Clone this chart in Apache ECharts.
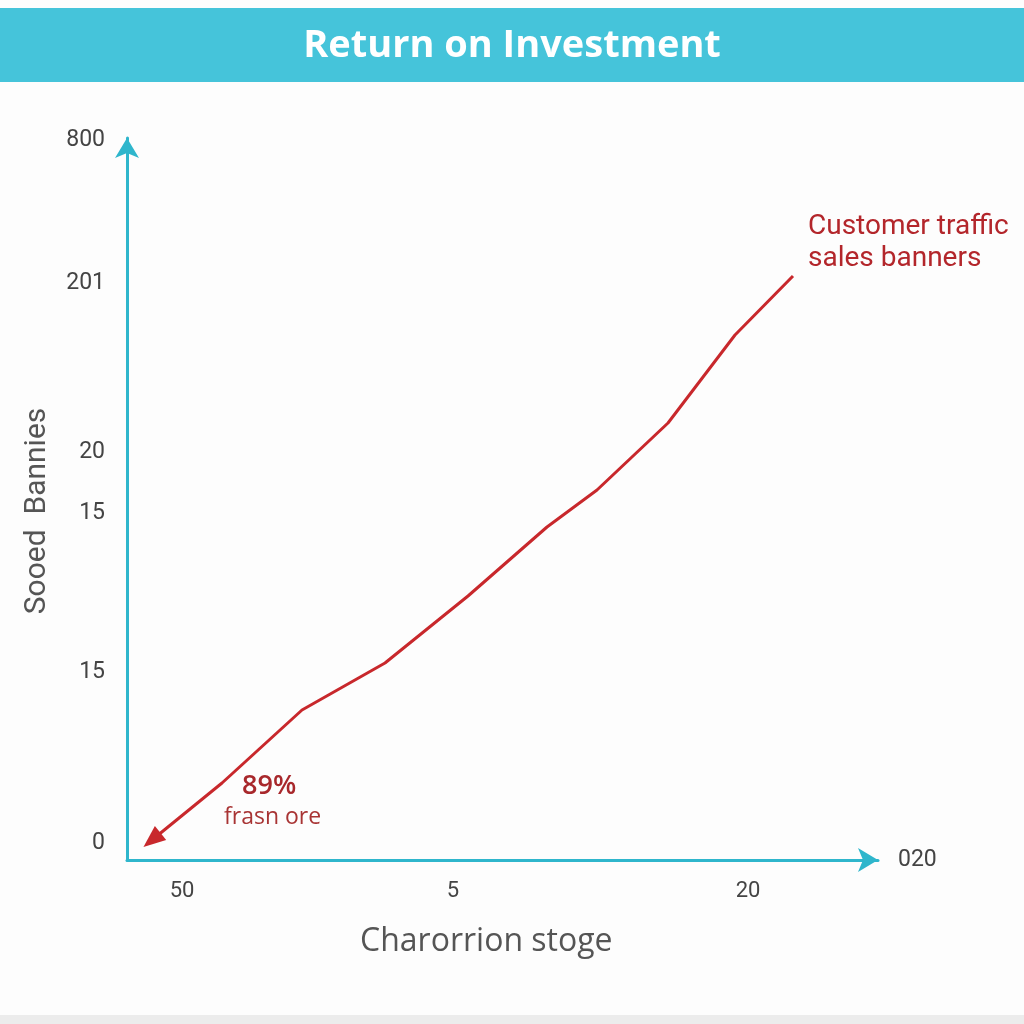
<!DOCTYPE html>
<html>
<head>
<meta charset="utf-8">
<title>Return on Investment</title>
<script src="https://cdn.jsdelivr.net/npm/echarts@6/dist/echarts.min.js"></script>
<style>
  html, body { margin: 0; padding: 0; background: #fdfdfd; }
  #chart { width: 1024px; height: 1024px; }
</style>
</head>
<body>
<div id="chart"></div>
<script>
// values (axis units = distance from the origin)
const linePoints = [
  [25, 20], [95, 77], [175, 150], [258, 197], [341, 264],
  [420, 333], [470, 370], [541, 437], [608, 525], [666, 584]
];
const yTickValues = [17, 188, 347, 408, 577, 720];
const yTickLabels = ['0', '15', '15', '20', '201', '800'];
const xTickValues = [55, 326, 621];
const xTickLabels = ['50', '5', '20'];

const chart = echarts.init(document.getElementById('chart'));

const axisColor = '#2fb6cc';
const labelColor = '#444';
const redColor = '#c8282c';

const option = {
  backgroundColor: '#fdfdfd',
  animation: false,
  title: {
    text: 'Return on Investment',
    left: 'center',
    top: 22,
    textStyle: {
      color: '#ffffff',
      fontSize: 38,
      fontWeight: 'bold',
      fontFamily: 'Open Sans'
    }
  },
  graphic: [
    {
      type: 'rect',
      z: -1,
      shape: { x: 0, y: 8, width: 1024, height: 74 },
      style: { fill: '#45c4da' }
    },
    {
      type: 'rect',
      z: -1,
      shape: { x: 0, y: 1015, width: 1024, height: 9 },
      style: { fill: '#ececec' }
    },
    {
      type: 'text',
      left: 360, top: 926,
      style: { text: 'Charorrion stoge', fill: '#555', font: '32px "Open Sans"' }
    },
    {
      type: 'text',
      left: 808, top: 211,
      style: { text: 'Customer traffic\nsales banners', fill: '#b3262b', font: '28px Roboto', lineHeight: 32 }
    },
    {
      type: 'text',
      left: 242, top: 773,
      style: { text: '89%', fill: '#a8282c', font: '600 27px "Open Sans"' }
    },
    {
      type: 'text',
      left: 224, top: 806,
      style: { text: 'frasn ore', fill: '#a83434', font: '23px "Open Sans"' }
    }
  ],
  grid: {
    left: 127,
    right: 146,
    top: 138,
    bottom: 164
  },
  xAxis: {
    type: 'value',
    min: 0,
    max: 751,
    name: '020',
    nameLocation: 'end',
    nameGap: 20,
    nameTextStyle: { color: labelColor, fontSize: 23, fontFamily: 'Roboto', align: 'left' },
    axisLine: {
      show: true,
      lineStyle: { color: axisColor, width: 3 },
      symbol: ['none', 'arrow'],
      symbolSize: [18, 20]
    },
    axisTick: { show: false },
    splitLine: { show: false },
    axisLabel: {
      customValues: xTickValues,
      margin: 20,
      color: labelColor,
      fontSize: 22,
      fontFamily: 'Roboto',
      formatter: v => xTickLabels[xTickValues.indexOf(v)] ?? ''
    }
  },
  yAxis: {
    type: 'value',
    min: 0,
    max: 722,
    name: 'Sooed  Bannies',
    nameLocation: 'middle',
    nameGap: 75,
    nameRotate: 90,
    nameTextStyle: { color: '#555', fontSize: 30, fontFamily: 'Roboto', padding: [0, 0, 0, -24] },
    axisLine: {
      show: true,
      lineStyle: { color: axisColor, width: 3 },
      symbol: ['none', 'arrow'],
      symbolSize: [18, 20]
    },
    axisTick: { show: false },
    splitLine: { show: false },
    axisLabel: {
      customValues: yTickValues,
      margin: 22,
      color: labelColor,
      fontSize: 23,
      fontFamily: 'Roboto',
      formatter: v => yTickLabels[yTickValues.indexOf(v)] ?? ''
    }
  },
  series: [{
    type: 'line',
    data: linePoints.map((p, i) => i === 0
      ? { value: p, symbol: 'triangle', symbolSize: [18, 22], symbolRotate: 129, itemStyle: { color: redColor } }
      : { value: p }),
    symbol: 'none',
    showSymbol: true,
    lineStyle: { color: redColor, width: 3 },
    itemStyle: { color: redColor }
  }]
};

chart.setOption(option);
</script>
</body>
</html>
